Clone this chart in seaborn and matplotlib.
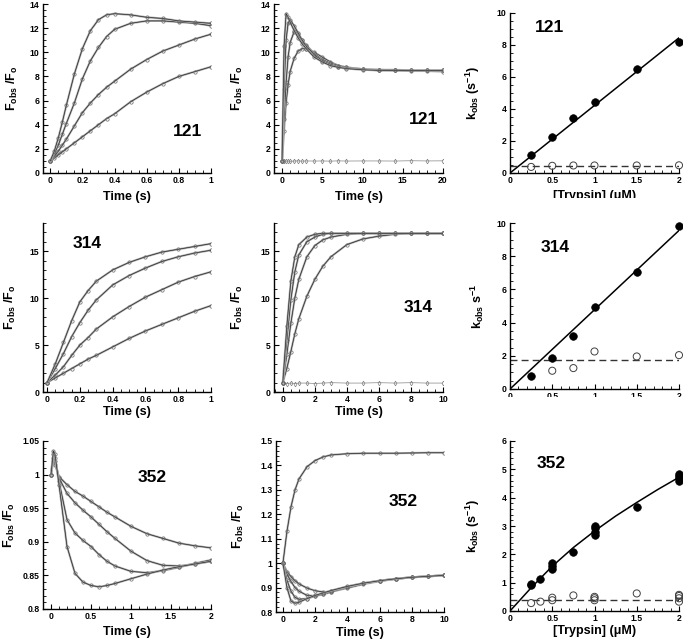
import numpy as np
import pandas as pd
import matplotlib
matplotlib.use("Agg")
import matplotlib.pyplot as plt
import seaborn as sns
from matplotlib.ticker import MultipleLocator, AutoMinorLocator, FuncFormatter
from matplotlib.patches import Rectangle

# ---------------- data ----------------
# 121, 0-1 s traces (four trypsin concentrations)
t121_short = [0, .025, .05, .075, .1, .15, .2, .25, .3, .35, .4, .5, .6, .7, .8, .9, 1.0]
f121_short_a = [1.0, 1.25, 1.5, 1.75, 2.0, 2.5, 3.0, 3.5, 4.0, 4.5, 4.9, 5.9, 6.7, 7.4, 8.0, 8.4, 8.8]
f121_short_b = [1.0, 1.4, 1.8, 2.3, 2.8, 3.9, 5.0, 5.8, 6.5, 7.1, 7.6, 8.6, 9.4, 10.1, 10.6, 11.1, 11.5]
f121_short_c = [1.0, 1.6, 2.3, 3.2, 4.1, 5.8, 7.8, 9.3, 10.4, 11.3, 11.9, 12.4, 12.6, 12.6, 12.5, 12.4, 12.2]
f121_short_d = [1.0, 1.8, 2.9, 4.2, 5.6, 8.2, 10.3, 11.8, 12.7, 13.1, 13.2, 13.1, 12.9, 12.8, 12.6, 12.5, 12.4]

# 121, 0-20 s traces
t121_long = [0, .25, .5, .75, 1, 1.5, 2, 2.5, 3, 4, 5, 6, 7, 8, 10, 12, 14, 16, 18, 20]
f121_long_a = [1.0, 3.5, 5.8, 7.3, 8.4, 9.5, 10.1, 10.3, 10.3, 10.0, 9.6, 9.2, 8.9, 8.75, 8.6, 8.5, 8.5, 8.45, 8.45, 8.4]
f121_long_b = [1.0, 4.5, 7.5, 9.6, 10.8, 11.7, 11.5, 11.0, 10.6, 9.9, 9.4, 9.1, 8.9, 8.75, 8.6, 8.55, 8.5, 8.5, 8.5, 8.5]
f121_long_c = [1.0, 7.0, 11.0, 12.4, 12.7, 12.2, 11.6, 11.0, 10.5, 9.8, 9.3, 9.0, 8.8, 8.7, 8.6, 8.55, 8.55, 8.5, 8.5, 8.5]
f121_long_d = [1.0, 10.5, 13.2, 12.9, 12.5, 11.8, 11.2, 10.7, 10.3, 9.6, 9.2, 8.9, 8.75, 8.65, 8.55, 8.5, 8.5, 8.5, 8.5, 8.5]
f121_long_ctrl = [1.0, 0.98, 0.99, 1.0, 0.97, 0.99, 1.01, 0.98, 1.0, 0.99, 1.0, 0.98, 1.01, 0.99, 1.0, 1.0, 0.99, 1.02, 1.0, 1.01]

# 121 rate constants
conc_121 = [0.25, 0.5, 0.75, 1.0, 1.5, 2.0]
kfast_121 = [1.15, 2.24, 3.43, 4.46, 6.5, 8.2]
kslow_121 = [0.38, 0.45, 0.47, 0.47, 0.47, 0.48]
fit_121_x = [0, 2.0]
fit_121_y = [0.0, 8.45]
kslow_mean_121 = 0.45

# 314, 0-1 s traces
t314_short = [0, .05, .1, .15, .2, .25, .3, .4, .5, .6, .7, .8, .9, 1.0]
f314_short_a = [1.0, 1.5, 2.0, 2.5, 3.0, 3.5, 3.9, 4.8, 5.7, 6.5, 7.2, 7.9, 8.6, 9.2]
f314_short_b = [1.0, 1.8, 2.7, 3.9, 5.0, 5.8, 6.7, 8.0, 9.1, 10.1, 10.9, 11.7, 12.3, 12.8]
f314_short_c = [1.0, 2.5, 4.1, 5.9, 7.4, 8.7, 9.8, 11.4, 12.4, 13.2, 13.9, 14.4, 14.8, 15.1]
f314_short_d = [1.0, 3.0, 5.3, 7.6, 9.6, 10.8, 11.8, 13.0, 13.8, 14.4, 14.9, 15.2, 15.5, 15.8]

# 314, 0-10 s traces
t314_long = [0, .25, .5, .75, 1, 1.5, 2, 2.5, 3, 4, 5, 6, 7, 8, 9, 10]
f314_long_a = [1.0, 2.5, 4.3, 6.2, 7.8, 10.2, 12.0, 13.4, 14.4, 15.7, 16.3, 16.6, 16.8, 16.9, 16.9, 16.9]
f314_long_b = [1.0, 4.0, 7.3, 10.0, 12.0, 14.4, 15.6, 16.2, 16.5, 16.8, 16.9, 16.9, 16.9, 16.9, 16.9, 16.9]
f314_long_c = [1.0, 5.5, 9.8, 12.8, 14.6, 16.0, 16.5, 16.8, 16.9, 16.9, 16.9, 16.9, 16.9, 16.9, 16.9, 16.9]
f314_long_d = [1.0, 7.0, 11.8, 14.4, 15.7, 16.5, 16.8, 16.9, 16.9, 16.9, 16.9, 16.9, 16.9, 16.9, 16.9, 16.9]
f314_long_ctrl = [1.0, 0.9, 0.95, 0.9, 0.95, 0.95, 0.9, 0.95, 1.0, 0.95, 0.95, 1.0, 0.95, 1.0, 0.95, 0.95]

# 314 rate constants
conc_314 = [0.25, 0.5, 0.75, 1.0, 1.5, 2.0]
kfast_314 = [0.8, 1.88, 3.22, 4.92, 7.02, 9.8]
conc_314_slow = [0.5, 0.75, 1.0, 1.5, 2.0]
kslow_314 = [1.1, 1.26, 2.26, 1.96, 2.04]
fit_314_x = [0, 2.0]
fit_314_y = [0.0, 9.55]
kslow_mean_314 = 1.73

# 352, 0-2 s traces
t352_short = [0, .03, .05, .1, .2, .3, .4, .5, .6, .7, .8, 1.0, 1.2, 1.4, 1.6, 1.8, 2.0]
f352_short_a = [1.0, 1.02, 1.015, 0.997, 0.985, 0.975, 0.968, 0.960, 0.952, 0.944, 0.937, 0.923, 0.912, 0.905, 0.898, 0.894, 0.891]
f352_short_b = [1.0, 1.025, 1.02, 0.995, 0.972, 0.958, 0.947, 0.937, 0.926, 0.915, 0.905, 0.886, 0.872, 0.865, 0.864, 0.867, 0.871]
f352_short_c = [1.0, 1.03, 1.025, 0.99, 0.933, 0.913, 0.902, 0.893, 0.881, 0.871, 0.864, 0.856, 0.854, 0.857, 0.862, 0.868, 0.873]
f352_short_d = [1.0, 1.035, 1.03, 0.985, 0.893, 0.853, 0.840, 0.835, 0.833, 0.835, 0.838, 0.845, 0.852, 0.858, 0.863, 0.867, 0.871]

# 352, 0-10 s traces
t352_long = [0, .25, .5, .75, 1, 1.5, 2, 2.5, 3, 4, 5, 6, 7, 8, 9, 10]
f352_long_rise = [1.0, 1.13, 1.23, 1.30, 1.345, 1.395, 1.42, 1.435, 1.443, 1.448, 1.45, 1.45, 1.45, 1.451, 1.452, 1.452]
f352_long_a = [1.0, 0.965, 0.945, 0.928, 0.915, 0.898, 0.887, 0.882, 0.883, 0.898, 0.914, 0.926, 0.935, 0.942, 0.946, 0.950]
f352_long_b = [1.0, 0.955, 0.925, 0.900, 0.885, 0.868, 0.866, 0.872, 0.882, 0.902, 0.917, 0.928, 0.936, 0.942, 0.946, 0.950]
f352_long_c = [1.0, 0.93, 0.885, 0.86, 0.852, 0.855, 0.865, 0.875, 0.886, 0.904, 0.918, 0.928, 0.936, 0.942, 0.946, 0.950]
f352_long_d = [1.0, 0.90, 0.845, 0.836, 0.84, 0.855, 0.868, 0.878, 0.888, 0.905, 0.918, 0.928, 0.936, 0.942, 0.946, 0.950]

# 352 rate constants
conc_352 = [0.25, 0.25, 0.36, 0.5, 0.5, 0.5, 0.75, 1.0, 1.0, 1.0, 1.0, 1.5, 2.0, 2.0, 2.0, 2.0]
kfast_352 = [0.95, 0.92, 1.12, 1.48, 1.6, 1.68, 2.07, 2.68, 2.8, 2.92, 3.0, 3.68, 4.6, 4.68, 4.76, 4.82]
conc_352_slow = [0.25, 0.36, 0.5, 0.5, 0.75, 1.0, 1.0, 1.0, 1.5, 2.0, 2.0, 2.0, 2.0]
kslow_352 = [0.28, 0.33, 0.38, 0.47, 0.55, 0.38, 0.45, 0.5, 0.62, 0.33, 0.45, 0.53, 0.57]
fit_352_x = [0, 0.25, 0.5, 0.75, 1.0, 1.25, 1.5, 1.75, 2.0]
fit_352_y = [0, 0.82, 1.58, 2.24, 2.82, 3.35, 3.83, 4.29, 4.72]
kslow_mean_352 = 0.4

# ---------------- style ----------------
sns.set_theme(style="ticks")
plt.rcParams.update({
    "font.family": ["Liberation Sans", "DejaVu Sans"],
    "font.weight": "bold",
    "axes.labelweight": "bold",
    "mathtext.fontset": "custom",
    "mathtext.rm": "Liberation Sans:bold",
    "mathtext.it": "Liberation Sans:bold",
    "mathtext.bf": "Liberation Sans:bold",
    "mathtext.sf": "Liberation Sans:bold",
    "mathtext.default": "bf",
    "axes.edgecolor": "black",
    "axes.linewidth": 1.0,
    "text.color": "black",
    "axes.labelcolor": "black",
    "xtick.color": "black",
    "ytick.color": "black",
    "xtick.direction": "in",
    "ytick.direction": "in",
    "xtick.major.size": 3.5,
    "ytick.major.size": 3.5,
    "xtick.minor.size": 2,
    "ytick.minor.size": 2,
    "xtick.major.width": 0.8,
    "ytick.major.width": 0.8,
    "xtick.minor.width": 0.6,
    "ytick.minor.width": 0.6,
    "xtick.major.pad": 2.5,
    "ytick.major.pad": 2.5,
    "xtick.labelsize": 6.2,
    "ytick.labelsize": 6.2,
    "axes.labelsize": 9,
})

W, H = 683, 641
fig = plt.figure(figsize=(W / 100, H / 100), dpi=100)


def make_axes(box):
    l, t, r, b = box
    return fig.add_axes([l / W, (H - b) / H, (r - l) / W, (b - t) / H])


def dress(ax, box, xlim, ylim, xstep, ystep, xminor, yminor, xlabel, ylabel,
          ylab_px, xlab_px, tag, tag_px):
    l, t, r, b = box
    ax.set_xlim(xlim)
    ax.set_ylim(ylim)
    ax.xaxis.set_major_locator(MultipleLocator(xstep))
    ax.yaxis.set_major_locator(MultipleLocator(ystep))
    ax.xaxis.set_minor_locator(AutoMinorLocator(xminor))
    ax.yaxis.set_minor_locator(AutoMinorLocator(yminor))
    fmt = FuncFormatter(lambda v, p: f"{v:g}")
    ax.xaxis.set_major_formatter(fmt)
    ax.yaxis.set_major_formatter(fmt)
    sns.despine(ax=ax)
    ax.set_ylabel(ylabel, fontsize=9, fontweight="bold")
    ax.yaxis.set_label_coords((ylab_px - l) / (r - l), 0.5)
    ax.yaxis.label.set_va("center")
    if xlabel:
        ax.set_xlabel(xlabel, fontsize=9, fontweight="bold")
        ax.xaxis.set_label_coords(0.5, (b - xlab_px) / (b - t))
        ax.xaxis.label.set_va("center")
    else:
        ax.set_xlabel("")
    ax.text((tag_px[0] - l) / (r - l), (b - tag_px[1]) / (b - t), tag,
            transform=ax.transAxes, ha="center", va="center",
            fontsize=12.5, fontweight="bold")


def trace(ax, t, f, marker="o"):
    df = pd.DataFrame({"t": t, "f": f})
    sns.lineplot(data=df, x="t", y="f", ax=ax, color="0.68", linewidth=1.5,
                 estimator=None, legend=False)
    sns.lineplot(data=df, x="t", y="f", ax=ax, color="0.15", linewidth=0.5,
                 marker=marker, markersize=2.4, markerfacecolor="none",
                 markeredgecolor="0.4", markeredgewidth=0.5,
                 estimator=None, legend=False)


def control(ax, t, f):
    df = pd.DataFrame({"t": t, "f": f})
    sns.lineplot(data=df, x="t", y="f", ax=ax, color="0.6", linewidth=0.6,
                 marker="d", markersize=2.4, markerfacecolor="none",
                 markeredgecolor="0.5", markeredgewidth=0.5,
                 estimator=None, legend=False)


def rates(ax, cx, kf, csx, ks, fx, fy, kmean):
    sns.lineplot(x=fx, y=fy, ax=ax, color="black", linewidth=1.1,
                 estimator=None, legend=False)
    ax.axhline(kmean, color="0.2", linewidth=1.0, linestyle=(0, (5, 3)))
    sns.scatterplot(x=csx, y=ks, ax=ax, marker="o", s=26,
                    facecolor="none", edgecolor="0.25", linewidth=0.7,
                    clip_on=False, zorder=5, legend=False)
    sns.scatterplot(x=cx, y=kf, ax=ax, marker="o", s=30, color="black",
                    edgecolor="black", linewidth=0.5, clip_on=False,
                    zorder=6, legend=False)


flab = r"$F_{obs}\ /F_{o}$"
klab = r"$k_{obs}\ (s^{-1})$"
tlab = "Time (s)"
clab = "[Trypsin] (\u03bcM)"

# ---- row 1: 121 ----
b11 = (43, 4, 211, 173)
ax = make_axes(b11)
for f in [f121_short_a, f121_short_b, f121_short_c, f121_short_d]:
    trace(ax, t121_short, f)
dress(ax, b11, (-0.045, 1.0), (0, 14), 0.2, 2, 4, 4, tlab, flab, 12, 197, "121", (187, 132))

b12 = (274, 4, 443, 173)
ax = make_axes(b12)
control(ax, t121_long, f121_long_ctrl)
for f in [f121_long_a, f121_long_b, f121_long_c, f121_long_d]:
    trace(ax, t121_long, f)
dress(ax, b12, (-1, 20), (0, 14), 5, 2, 5, 4, tlab, flab, 237, 197, "121", (423, 119))

b13 = (510, 13, 679, 173)
ax = make_axes(b13)
rates(ax, conc_121, kfast_121, conc_121, kslow_121, fit_121_x, fit_121_y, kslow_mean_121)
dress(ax, b13, (0, 2), (0, 10), 0.5, 2, 5, 4, clab, klab, 473, 196, "121", (550, 27))

# ---- row 2: 314 ----
b21 = (43, 223, 211, 392)
ax = make_axes(b21)
for f in [f314_short_a, f314_short_b, f314_short_c, f314_short_d]:
    trace(ax, t314_short, f)
dress(ax, b21, (-0.025, 1.0), (0, 18), 0.2, 5, 4, 5, tlab, flab, 10, 412, "314", (87, 243))

b22 = (274, 223, 443, 392)
ax = make_axes(b22)
control(ax, t314_long, f314_long_ctrl)
for f in [f314_long_a, f314_long_b, f314_long_c, f314_long_d]:
    trace(ax, t314_long, f)
dress(ax, b22, (-0.55, 10), (0, 18), 2, 5, 4, 5, tlab, flab, 237, 412, "314", (418, 307))

b23 = (510, 223, 679, 389)
ax = make_axes(b23)
rates(ax, conc_314, kfast_314, conc_314_slow, kslow_314, fit_314_x, fit_314_y, kslow_mean_314)
dress(ax, b23, (0, 2), (0, 10), 0.5, 2, 5, 4, None, r"$k_{obs}\ s^{-1}$", 477, None, "314", (555, 247))

# ---- row 3: 352 ----
b31 = (43, 441, 211, 609)
ax = make_axes(b31)
for f in [f352_short_a, f352_short_b, f352_short_c, f352_short_d]:
    trace(ax, t352_short, f)
dress(ax, b31, (-0.1, 2), (0.8, 1.05), 0.5, 0.05, 5, 5, tlab, flab, 9, 632, "352", (152, 477))

b32 = (276, 441, 444, 612)
ax = make_axes(b32)
for f in [f352_long_rise, f352_long_a, f352_long_b, f352_long_c, f352_long_d]:
    trace(ax, t352_long, f)
dress(ax, b32, (-0.43, 10), (0.8, 1.5), 2, 0.1, 4, 5, tlab, flab, 238, 633, "352", (403, 501))

b33 = (510, 441, 679, 611)
ax = make_axes(b33)
rates(ax, conc_352, kfast_352, conc_352_slow, kslow_352, fit_352_x, fit_352_y, kslow_mean_352)
dress(ax, b33, (0, 2), (0, 6), 0.5, 1, 5, 5, clab, klab, 473, 631, "352", (551, 463))

# the original panels overlap and crop part of the rate-panel labels
for (l, t, r, b) in [(455, 198, 683, 214), (495, 397, 683, 420)]:
    fig.add_artist(Rectangle((l / W, (H - b) / H), (r - l) / W, (b - t) / H,
                             transform=fig.transFigure, facecolor="white",
                             edgecolor="none", zorder=20))

fig.savefig("out.png", dpi=100)
